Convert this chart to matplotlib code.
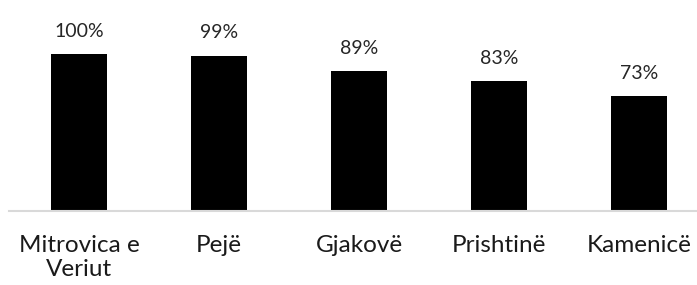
import matplotlib.pyplot as plt

plt.rcParams['font.family'] = ['Lato', 'DejaVu Sans']

# dades
qytetet = ['Mitrovica e\nVeriut', 'Pejë', 'Gjakovë', 'Prishtinë', 'Kamenicë']
perqindjet = [100, 99, 89, 83, 73]
etiketat = ['100%', '99%', '89%', '83%', '73%']

fig = plt.figure(figsize=(6.97, 2.85), dpi=100)
ax = fig.add_axes([9 / 697, 74 / 285, 688 / 697, 157 / 285])

x = range(len(qytetet))
ax.bar(x, perqindjet, width=0.4, color='black')

for xi, v, t in zip(x, perqindjet, etiketat):
    ax.text(xi, v + 9, t, ha='center', va='bottom', fontsize=14,
            color='#262626')

ax.set_xlim(-0.5, 4.5 - 12 / 140)
ax.set_ylim(0, 100)
ax.set_xticks(list(x))
ax.set_xticklabels(qytetet, fontsize=17.5, color='#1a1a1a', linespacing=1.2,
                   multialignment='center')
ax.tick_params(axis='x', length=0, pad=17)
ax.set_yticks([])

for s in ['top', 'right', 'left']:
    ax.spines[s].set_visible(False)
ax.spines['bottom'].set_color('#d9d9d9')
ax.spines['bottom'].set_linewidth(1.5)

fig.savefig('out.png', dpi=100)
